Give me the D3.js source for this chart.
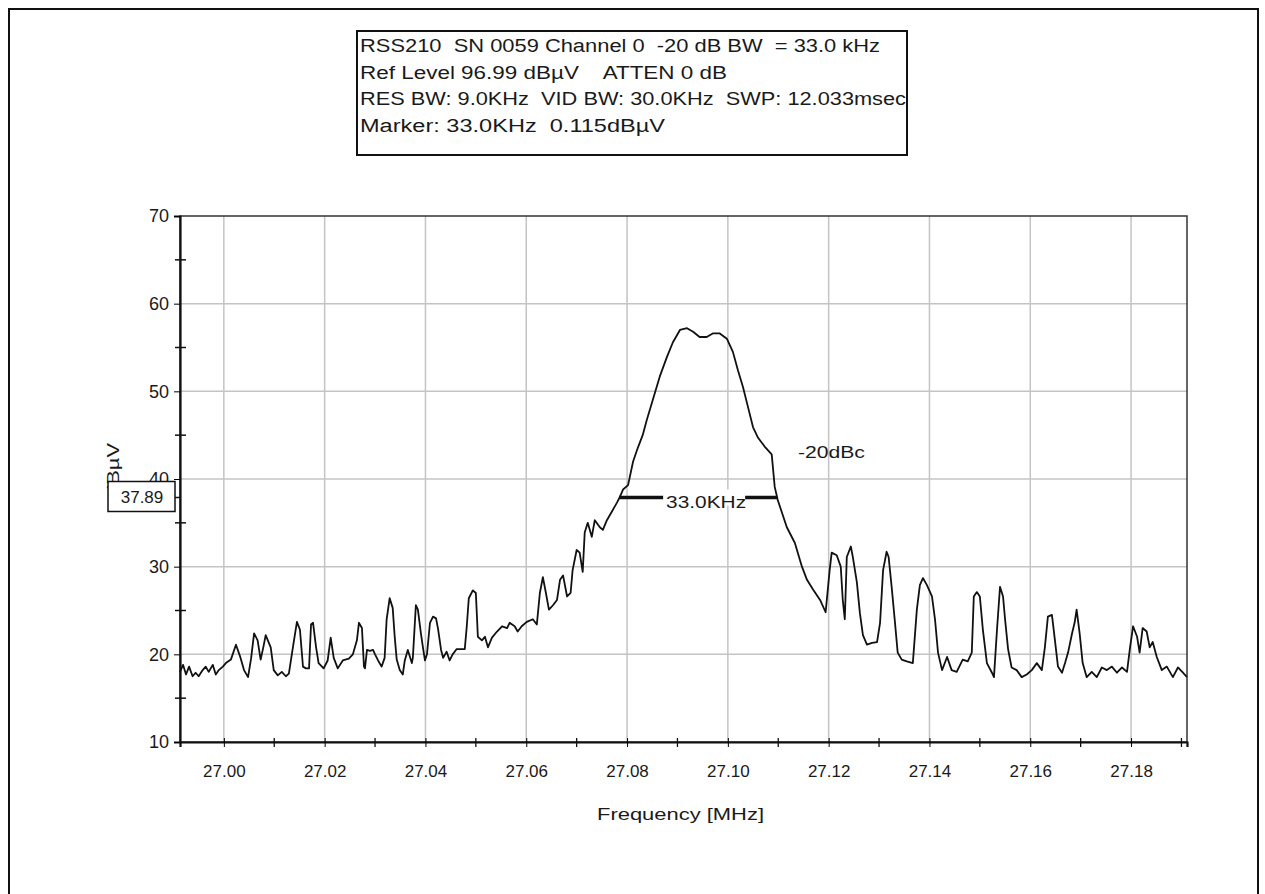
<!DOCTYPE html>
<head>
    <meta charset="utf-8">
    <style>
        body { margin: 0; background: #fff; }
        text { font-family: "Liberation Sans", Arial, sans-serif; fill: #1a1a1a; }
    </style>
</head>
<body>
    <script src="https://d3js.org/d3.v7.min.js"></script>
    <script>

        // spectrum trace
        var freqMHz = [
            26.9913, 26.9919, 26.9925, 26.9931, 26.9938, 26.9944, 26.9950, 26.9958, 26.9964, 26.9970,
            26.9978, 26.9984, 26.9990, 26.9998, 27.0004, 27.0014, 27.0024, 27.0032, 27.0040, 27.0048,
            27.0054, 27.0060, 27.0067, 27.0073, 27.0079, 27.0083, 27.0093, 27.0099, 27.0107, 27.0115,
            27.0123, 27.0129, 27.0137, 27.0145, 27.0151, 27.0157, 27.0163, 27.0169, 27.0173, 27.0177,
            27.0183, 27.0188, 27.0198, 27.0206, 27.0212, 27.0218, 27.0226, 27.0236, 27.0248, 27.0256,
            27.0264, 27.0268, 27.0274, 27.0278, 27.0280, 27.0284, 27.0290, 27.0296, 27.0300, 27.0306,
            27.0313, 27.0319, 27.0323, 27.0329, 27.0335, 27.0339, 27.0343, 27.0349, 27.0355, 27.0359,
            27.0365, 27.0373, 27.0375, 27.0381, 27.0385, 27.0391, 27.0395, 27.0399, 27.0403, 27.0409,
            27.0415, 27.0421, 27.0425, 27.0431, 27.0435, 27.0442, 27.0448, 27.0454, 27.0462, 27.0472,
            27.0478, 27.0482, 27.0486, 27.0494, 27.0500, 27.0504, 27.0512, 27.0518, 27.0524, 27.0532,
            27.0542, 27.0552, 27.0562, 27.0567, 27.0577, 27.0583, 27.0591, 27.0601, 27.0613, 27.0621,
            27.0627, 27.0633, 27.0639, 27.0645, 27.0653, 27.0661, 27.0667, 27.0673, 27.0681, 27.0688,
            27.0692, 27.0700, 27.0706, 27.0712, 27.0716, 27.0722, 27.0730, 27.0736, 27.0746, 27.0752,
            27.0760, 27.0770, 27.0780, 27.0786, 27.0792, 27.0802, 27.0812, 27.0821, 27.0831, 27.0839,
            27.0851, 27.0865, 27.0879, 27.0891, 27.0905, 27.0919, 27.0931, 27.0944, 27.0958, 27.0970,
            27.0984, 27.0998, 27.1010, 27.1020, 27.1030, 27.1040, 27.1050, 27.1060, 27.1073, 27.1087,
            27.1093, 27.1099, 27.1117, 27.1133, 27.1147, 27.1157, 27.1169, 27.1183, 27.1194, 27.1202,
            27.1206, 27.1216, 27.1224, 27.1228, 27.1232, 27.1236, 27.1244, 27.1248, 27.1256, 27.1262,
            27.1268, 27.1276, 27.1286, 27.1296, 27.1302, 27.1308, 27.1315, 27.1319, 27.1325, 27.1331,
            27.1337, 27.1345, 27.1355, 27.1367, 27.1375, 27.1381, 27.1387, 27.1395, 27.1405, 27.1411,
            27.1417, 27.1425, 27.1435, 27.1444, 27.1454, 27.1466, 27.1476, 27.1484, 27.1488, 27.1494,
            27.1500, 27.1506, 27.1514, 27.1524, 27.1528, 27.1534, 27.1540, 27.1546, 27.1550, 27.1556,
            27.1563, 27.1573, 27.1583, 27.1593, 27.1603, 27.1613, 27.1623, 27.1629, 27.1635, 27.1643,
            27.1649, 27.1655, 27.1663, 27.1669, 27.1675, 27.1683, 27.1688, 27.1692, 27.1698, 27.1704,
            27.1712, 27.1722, 27.1732, 27.1742, 27.1752, 27.1762, 27.1772, 27.1782, 27.1792, 27.1798,
            27.1804, 27.1812, 27.1817, 27.1823, 27.1831, 27.1837, 27.1843, 27.1851, 27.1861, 27.1871,
            27.1883, 27.1893, 27.1903, 27.1911
        ];
        var levelDb = [
            18.0, 18.8, 17.7, 18.6, 17.5, 17.9, 17.5, 18.2, 18.6, 18.0,
            18.8, 17.7, 18.2, 18.6, 19.0, 19.4, 21.1, 19.8, 18.2, 17.4,
            19.5, 22.4, 21.6, 19.4, 21.0, 22.2, 20.8, 18.2, 17.6, 18.0,
            17.5, 17.8, 20.8, 23.7, 22.8, 18.6, 18.4, 18.4, 23.4, 23.6,
            20.8, 19.0, 18.4, 19.3, 21.9, 19.6, 18.4, 19.3, 19.5, 20.0,
            21.6, 23.6, 23.0, 18.6, 18.4, 20.5, 20.4, 20.5, 20.0, 19.3,
            18.6, 19.6, 24.0, 26.4, 25.3, 22.0, 19.4, 18.2, 17.7, 19.3,
            20.5, 19.0, 19.6, 25.6, 25.1, 22.4, 20.8, 19.3, 20.0, 23.6,
            24.3, 24.1, 22.9, 20.5, 19.6, 20.3, 19.3, 20.0, 20.6, 20.6,
            20.6, 23.2, 26.4, 27.3, 27.0, 22.0, 21.6, 22.0, 20.8, 21.9,
            22.6, 23.2, 23.0, 23.6, 23.2, 22.6, 23.2, 23.7, 24.0, 23.4,
            27.0, 28.8, 27.0, 25.1, 25.6, 26.2, 28.5, 29.0, 26.6, 27.0,
            29.6, 31.9, 31.6, 29.4, 33.9, 35.0, 33.4, 35.3, 34.5, 34.2,
            35.3, 36.3, 37.3, 38.0, 38.8, 39.3, 42.0, 43.5, 45.0, 46.7,
            49.0, 51.7, 53.9, 55.6, 57.0, 57.2, 56.8, 56.2, 56.2, 56.6,
            56.6, 56.0, 54.5, 52.4, 50.5, 48.2, 45.9, 44.7, 43.7, 42.8,
            39.1, 37.6, 34.5, 32.7, 30.0, 28.5, 27.4, 26.2, 24.8, 29.6,
            31.6, 31.3, 30.0, 26.2, 24.0, 31.1, 32.3, 31.1, 28.2, 24.7,
            22.2, 21.1, 21.3, 21.4, 23.6, 29.6, 31.7, 31.1, 27.7, 24.0,
            20.2, 19.4, 19.2, 19.0, 25.1, 27.9, 28.7, 27.9, 26.6, 24.0,
            20.2, 18.2, 19.7, 18.2, 18.0, 19.4, 19.2, 20.2, 26.6, 27.1,
            26.6, 22.8, 19.0, 17.9, 17.4, 22.8, 27.7, 26.6, 24.0, 20.6,
            18.5, 18.2, 17.4, 17.7, 18.2, 19.0, 18.2, 20.8, 24.3, 24.5,
            21.6, 18.6, 17.9, 19.0, 20.2, 22.4, 23.6, 25.1, 22.4, 19.0,
            17.4, 18.0, 17.4, 18.5, 18.2, 18.6, 17.9, 18.5, 18.0, 20.8,
            23.2, 22.0, 20.2, 23.0, 22.6, 20.8, 21.4, 19.7, 18.2, 18.6,
            17.4, 18.5, 17.9, 17.4
        ];

        var xTicks = [27.00, 27.02, 27.04, 27.06, 27.08, 27.10, 27.12, 27.14, 27.16, 27.18];
        var xMinorTicks = [26.99, 27.01, 27.03, 27.05, 27.07, 27.09, 27.11, 27.13, 27.15, 27.17, 27.19];
        var yTicks = [10, 20, 30, 40, 50, 60, 70];
        var yMinorTicks = [15, 25, 35, 45, 55, 65];
        var xDomain = [26.9913, 27.1911];

        var headerLines = [
            "RSS210  SN 0059 Channel 0  -20 dB BW  = 33.0 kHz",
            "Ref Level 96.99 dB\u00b5V    ATTEN 0 dB",
            "RES BW: 9.0KHz  VID BW: 30.0KHz  SWP: 12.033msec",
            "Marker: 33.0KHz  0.115dB\u00b5V"
        ];
        var markerLevel = 37.89;
        var markerLow = 27.0784, markerHigh = 27.1098;
        var markerLabel = "33.0KHz";
        var dbcLabel = "-20dBc", dbcFreq = 27.1139, dbcLevel = 43.1;

        // plot area
        var margin = {top: 216, right: 78, bottom: 152, left: 180},
            width = 1265 - margin.left - margin.right,
            height = 894 - margin.top - margin.bottom;

        var x = d3.scaleLinear().domain(xDomain).range([0, width]);
        var y = d3.scaleLinear().domain([10, 70]).range([height, 0]);

        var root = d3.select("body").append("svg")
            .attr("width", 1265)
            .attr("height", 894);

        root.append("rect").attr("width", 1265).attr("height", 894).attr("fill", "#fff");

        // outer frame
        root.append("rect")
            .attr("x", 9).attr("y", 9)
            .attr("width", 1249).attr("height", 900)
            .attr("fill", "none").attr("stroke", "#111").attr("stroke-width", 2);

        var svg = root.append("g")
            .attr("transform", "translate(" + margin.left + "," + margin.top + ")");

        // gridlines
        svg.append("g")
            .selectAll("line")
            .data(xTicks)
            .enter().append("line")
            .attr("x1", function(d) { return x(d); })
            .attr("x2", function(d) { return x(d); })
            .attr("y1", 0).attr("y2", height)
            .attr("stroke", "#c4c4c4").attr("stroke-width", 1.5);
        svg.append("g")
            .selectAll("line")
            .data(yTicks.slice(1, -1))
            .enter().append("line")
            .attr("x1", 0).attr("x2", width)
            .attr("y1", function(d) { return y(d); })
            .attr("y2", function(d) { return y(d); })
            .attr("stroke", "#c4c4c4").attr("stroke-width", 1.5);

        // frame of the plot
        svg.append("rect")
            .attr("width", width).attr("height", height)
            .attr("fill", "none").attr("stroke", "#333").attr("stroke-width", 1.5);

        // trace
        var line = d3.line()
            .x(function(d, i) { return x(freqMHz[i]); })
            .y(function(d) { return y(d); });
        svg.append("path")
            .datum(levelDb)
            .attr("d", line)
            .attr("fill", "none")
            .attr("stroke", "#111")
            .attr("stroke-width", 1.8)
            .attr("stroke-linejoin", "round");

        // y axis
        var yAxis = svg.append("g")
            .call(d3.axisLeft(y).tickValues(yTicks).tickSize(6).tickPadding(5));
        yAxis.select(".domain").attr("stroke", "#111").attr("stroke-width", 2.2);
        yAxis.selectAll("text").style("font-size", "18px").attr("fill", "#222");
        svg.append("g")
            .selectAll("line")
            .data(yMinorTicks)
            .enter().append("line")
            .attr("x1", -5).attr("x2", 6)
            .attr("y1", function(d) { return y(d); })
            .attr("y2", function(d) { return y(d); })
            .attr("stroke", "#111").attr("stroke-width", 1.5);

        // x axis
        var xAxis = svg.append("g")
            .attr("transform", "translate(0," + height + ")")
            .call(d3.axisBottom(x).tickValues(xTicks).tickFormat(d3.format(".2f")).tickSize(5).tickPadding(18));
        xAxis.select(".domain").attr("stroke", "#111").attr("stroke-width", 2.2);
        xAxis.selectAll("text").style("font-size", "17px").attr("fill", "#222");
        xAxis.selectAll(".tick line").attr("y1", -4);
        svg.append("g")
            .attr("transform", "translate(0," + height + ")")
            .selectAll("line")
            .data(xMinorTicks.filter(function(d) { return d > xDomain[0] && d < xDomain[1]; }))
            .enter().append("line")
            .attr("x1", function(d) { return x(d); })
            .attr("x2", function(d) { return x(d); })
            .attr("y1", -4).attr("y2", 5)
            .attr("stroke", "#111").attr("stroke-width", 1.3);

        svg.append("text")
            .attr("x", 597 - margin.left)
            .attr("y", height + 78)
            .attr("textLength", 167)
            .attr("lengthAdjust", "spacingAndGlyphs")
            .style("font-size", "17px")
            .text("Frequency [MHz]");

        // y label, mostly hidden by the marker readout box
        svg.append("text")
            .attr("transform", "translate(-61," + (y(40) - 9) + ") rotate(-90)")
            .attr("text-anchor", "middle")
            .attr("textLength", 54)
            .attr("lengthAdjust", "spacingAndGlyphs")
            .style("font-size", "17px")
            .text("dB\u00b5V");

        // -20 dB bandwidth marker
        svg.append("line")
            .attr("x1", x(markerLow)).attr("x2", x(markerHigh))
            .attr("y1", y(markerLevel)).attr("y2", y(markerLevel))
            .attr("stroke", "#111").attr("stroke-width", 3.5);
        var mid = (x(markerLow) + x(markerHigh)) / 2 + 8;
        svg.append("rect")
            .attr("x", mid - 43).attr("y", y(markerLevel) - 8)
            .attr("width", 82).attr("height", 16)
            .attr("fill", "#fff");
        svg.append("text")
            .attr("x", mid - 40).attr("y", y(markerLevel) + 11)
            .attr("textLength", 80)
            .attr("lengthAdjust", "spacingAndGlyphs")
            .style("font-size", "17px")
            .text(markerLabel);

        svg.append("text")
            .attr("x", x(dbcFreq)).attr("y", y(dbcLevel) + 6)
            .attr("textLength", 67)
            .attr("lengthAdjust", "spacingAndGlyphs")
            .style("font-size", "16px")
            .text(dbcLabel);

        // readout box on the y axis
        svg.append("line")
            .attr("x1", -5).attr("x2", 0)
            .attr("y1", y(markerLevel)).attr("y2", y(markerLevel))
            .attr("stroke", "#111").attr("stroke-width", 1.5);
        svg.append("rect")
            .attr("x", -72).attr("y", y(markerLevel) - 16)
            .attr("width", 67).attr("height", 30)
            .attr("fill", "#fff").attr("stroke", "#111").attr("stroke-width", 1.5);
        svg.append("text")
            .attr("x", -38).attr("y", y(markerLevel) + 6)
            .attr("text-anchor", "middle")
            .style("font-size", "17px")
            .text(markerLevel.toFixed(2));

        // header box
        var header = root.append("g").attr("transform", "translate(357,31)");
        header.append("rect")
            .attr("width", 550).attr("height", 124)
            .attr("fill", "#fff").attr("stroke", "#111").attr("stroke-width", 2);
        var headerWidths = [520, 367, 546, 305];
        header.selectAll("text.hdr")
            .data(headerLines)
            .enter().append("text")
            .attr("class", "hdr")
            .attr("x", 3)
            .attr("y", function(d, i) { return 21 + i * 26.5; })
            .attr("textLength", function(d, i) { return headerWidths[i]; })
            .attr("lengthAdjust", "spacingAndGlyphs")
            .style("white-space", "pre")
            .style("font-size", "18px")
            .text(function(d) { return d; });

    </script>
</body>
